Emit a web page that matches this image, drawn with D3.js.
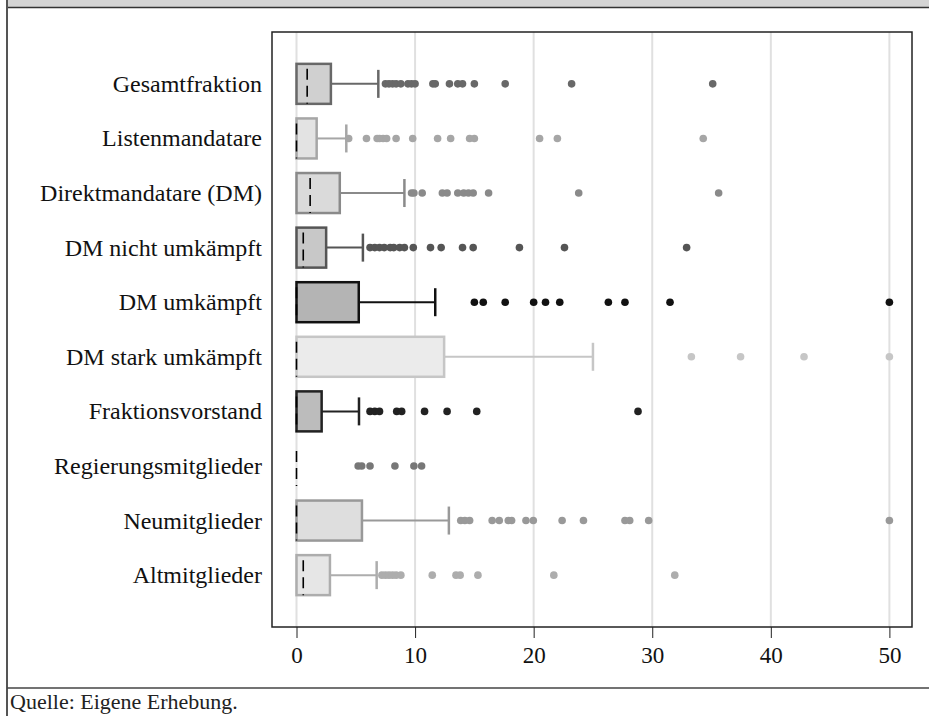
<!DOCTYPE html>
<html>
<head>
<meta charset="utf-8">
<script src="https://cdn.jsdelivr.net/npm/d3@7"></script>
<style>
  body { margin: 0; background: #fff; }
  svg { display: block; }
</style>
</head>
<body>
<svg id="chart"></svg>
<script>
// Categories (top to bottom)
const categories = ["Gesamtfraktion", "Listenmandatare", "Direktmandatare (DM)", "DM nicht umkämpft",
  "DM umkämpft", "DM stark umkämpft", "Fraktionsvorstand", "Regierungsmitglieder",
  "Neumitglieder", "Altmitglieder"];

// Box statistics
const q1 = [0, 0, 0, 0, 0, 0, 0, 0, 0, 0];
const medians = [0.9, 0, 1.15, 0.57, 0, 0, 0, 0, 0, 0.57];
const q3 = [2.9, 1.7, 3.65, 2.5, 5.25, 12.45, 2.12, 0, 5.52, 2.82];
const whiskerHigh = [6.9, 4.2, 9.1, 5.6, 11.7, 25, 5.27, 0, 12.85, 6.76];

// Outliers per category
const outliers = [
  [7.5, 7.8, 8.1, 8.4, 8.8, 9.4, 9.7, 10.0, 11.5, 11.7, 12.9, 13.6, 14.0, 15.0, 17.6, 23.2, 35.1],
  [4.4, 5.9, 6.8, 7.0, 7.3, 7.6, 8.4, 9.8, 11.9, 13.0, 14.6, 15.0, 20.5, 22.0, 34.3],
  [9.7, 9.9, 10.6, 12.3, 12.7, 13.6, 14.1, 14.5, 14.9, 16.2, 23.8, 35.6],
  [6.2, 6.6, 7.0, 7.4, 7.9, 8.2, 8.7, 9.1, 9.85, 11.3, 12.2, 14.0, 14.9, 18.8, 22.6, 32.9],
  [15.0, 15.75, 17.6, 20.0, 21.0, 22.2, 26.3, 27.7, 31.5, 50.0],
  [33.3, 37.45, 42.8, 50.0],
  [6.2, 6.6, 7.0, 8.45, 8.87, 10.8, 12.7, 15.2, 28.8],
  [5.2, 5.5, 6.2, 8.3, 9.9, 10.55],
  [13.85, 14.2, 14.6, 16.5, 17.1, 17.86, 18.14, 19.35, 19.97, 22.4, 24.2, 27.7, 28.1, 29.7, 50.0],
  [7.2, 7.5, 7.8, 8.1, 8.4, 8.8, 11.45, 13.45, 13.8, 15.3, 21.7, 31.9]
];

// Styles per category
const fills = ["#d0d0d0", "#e3e3e3", "#dadada", "#c8c8c8", "#b4b4b4", "#ebebeb", "#bcbcbc", "#d6d6d6", "#dedede", "#e6e6e6"];
const strokes = ["#686868", "#a6a6a6", "#8a8a8a", "#555555", "#111111", "#c6c6c6", "#222222", "#777777", "#999999", "#adadad"];

const xTicks = [0, 10, 20, 30, 40, 50];

const W = 929, H = 716;
const frame = { left: 272, right: 912, top: 32, bottom: 627 };

const svg = d3.select("#chart").attr("width", W).attr("height", H);
const serif = "'Liberation Serif', 'DejaVu Serif', serif";

// header band and borders
svg.append("rect").attr("x", 7).attr("y", 0).attr("width", W - 7).attr("height", 7.5).attr("fill", "#d4d4d4");
svg.append("line").attr("x1", 7).attr("x2", W).attr("y1", 7.5).attr("y2", 7.5).attr("stroke", "#333").attr("stroke-width", 1.5);
svg.append("line").attr("x1", 7).attr("x2", 7).attr("y1", 0).attr("y2", H).attr("stroke", "#555").attr("stroke-width", 2);
svg.append("line").attr("x1", 7).attr("x2", W).attr("y1", 688).attr("y2", 688).attr("stroke", "#444").attr("stroke-width", 1.5);

// scales
const x = d3.scaleLinear().domain([0, 50]).range([296.5, 889.4]);
const y = d3.scalePoint().domain(categories).range([frame.top, frame.bottom]).padding(0.95);
const boxH = 40, capH = 28;

// gridlines
svg.append("g").selectAll("line").data(xTicks).join("line")
  .attr("x1", d => x(d)).attr("x2", d => x(d))
  .attr("y1", frame.top).attr("y2", frame.bottom)
  .attr("stroke", "#e0e0e0").attr("stroke-width", 2);

// frame
svg.append("rect")
  .attr("x", frame.left).attr("y", frame.top)
  .attr("width", frame.right - frame.left).attr("height", frame.bottom - frame.top)
  .attr("fill", "none").attr("stroke", "#222").attr("stroke-width", 1.5);

// x axis
const xAxis = svg.append("g")
  .attr("transform", `translate(0,${frame.bottom})`)
  .call(d3.axisBottom(x).tickValues(xTicks).tickSize(11).tickPadding(9).tickFormat(d3.format("d")));
xAxis.select(".domain").remove();
xAxis.selectAll("line").attr("stroke", "#222").attr("stroke-width", 1);
xAxis.selectAll("text").attr("font-family", serif).attr("font-size", 23).attr("fill", "#111");

// category labels
svg.append("g").selectAll("text").data(categories).join("text")
  .attr("x", 262).attr("y", d => y(d) + 8)
  .attr("text-anchor", "end")
  .attr("font-family", serif).attr("font-size", 24).attr("fill", "#111")
  .text(d => d);

// boxes
const rows = svg.append("g").selectAll("g").data(categories).join("g")
  .attr("transform", d => `translate(0,${y(d)})`);

rows.append("line")
  .attr("x1", (d, i) => x(q3[i])).attr("x2", (d, i) => x(whiskerHigh[i]))
  .attr("y1", 0).attr("y2", 0)
  .attr("stroke", (d, i) => strokes[i]).attr("stroke-width", 2);

rows.filter((d, i) => whiskerHigh[i] > q3[i]).append("line")
  .attr("x1", d => x(whiskerHigh[categories.indexOf(d)])).attr("x2", d => x(whiskerHigh[categories.indexOf(d)]))
  .attr("y1", -capH / 2).attr("y2", capH / 2)
  .attr("stroke", d => strokes[categories.indexOf(d)]).attr("stroke-width", 2.5);

rows.filter((d, i) => q3[i] > q1[i]).append("rect")
  .attr("x", d => x(q1[categories.indexOf(d)]))
  .attr("width", d => x(q3[categories.indexOf(d)]) - x(q1[categories.indexOf(d)]))
  .attr("y", -boxH / 2).attr("height", boxH)
  .attr("fill", d => fills[categories.indexOf(d)])
  .attr("stroke", d => strokes[categories.indexOf(d)]).attr("stroke-width", 2.5);

// medians (dashed)
rows.append("line")
  .attr("x1", (d, i) => x(medians[i])).attr("x2", (d, i) => x(medians[i]))
  .attr("y1", -boxH / 2 + 5).attr("y2", boxH / 2)
  .attr("stroke", "#000").attr("stroke-width", 1.6)
  .attr("stroke-dasharray", "11,6");

// outliers
rows.each(function (d, i) {
  d3.select(this).selectAll("circle").data(outliers[i]).join("circle")
    .attr("cx", v => x(v)).attr("cy", 0).attr("r", 3.8)
    .attr("fill", strokes[i]);
});

// footer
svg.append("text")
  .attr("x", 10).attr("y", 709)
  .attr("font-family", serif).attr("font-size", 22).attr("fill", "#222")
  .text("Quelle: Eigene Erhebung.");
</script>
</body>
</html>
